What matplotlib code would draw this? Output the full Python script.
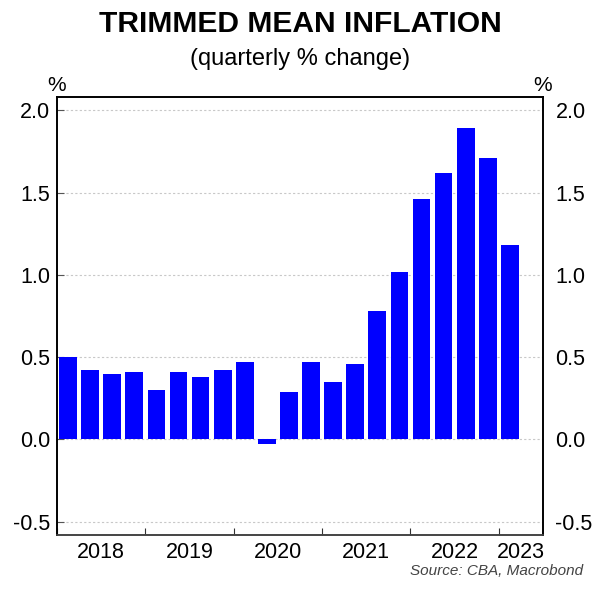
import matplotlib.pyplot as plt
import numpy as np

plt.rcParams['font.family'] = ['Liberation Sans', 'DejaVu Sans']

# quarterly trimmed mean inflation, 2018 Q1 .. 2023 Q1
quarters = ['2018Q1', '2018Q2', '2018Q3', '2018Q4',
            '2019Q1', '2019Q2', '2019Q3', '2019Q4',
            '2020Q1', '2020Q2', '2020Q3', '2020Q4',
            '2021Q1', '2021Q2', '2021Q3', '2021Q4',
            '2022Q1', '2022Q2', '2022Q3', '2022Q4',
            '2023Q1']
values = [0.50, 0.42, 0.40, 0.41,
          0.30, 0.41, 0.38, 0.42,
          0.47, -0.03, 0.29, 0.47,
          0.35, 0.46, 0.78, 1.02,
          1.46, 1.62, 1.89, 1.71,
          1.18]
years = ['2018', '2019', '2020', '2021', '2022', '2023']
yticks = [-0.5, 0.0, 0.5, 1.0, 1.5, 2.0]

fig = plt.figure(figsize=(6.09, 5.92), dpi=100)
ax = fig.add_axes([57/609, 1 - 535/592, (543-57)/609, (535-97)/592])

x = np.arange(len(values)) + 0.5
ax.bar(x, values, width=0.8, color='#0000ff', zorder=3)

ax.set_xlim(0, 22)
ax.set_ylim(-0.58, 2.08)
ax.set_yticks(yticks)
ax.set_yticklabels([f'{v:.1f}' for v in yticks])
ax.grid(axis='y', color='#c8c8c8', linestyle=(0, (2, 2)), linewidth=0.8, zorder=0)

# year boundaries as ticks, year names centred between them
ax.set_xticks([0, 4, 8, 12, 16, 20])
ax.set_xticklabels([])
ax.tick_params(axis='x', direction='in', length=5, color='#333333')
label_pos = [2, 6, 10, 14, 18, 21]
for pos, yr in zip(label_pos, years):
    ax.text(pos, -0.625, yr, transform=ax.transData, ha='center', va='top', fontsize=15.5)

ax.tick_params(axis='y', direction='in', length=5, labelsize=15.5, color='#555555',
               left=True, right=True, labelleft=True, labelright=False, pad=5)

# right-hand labels on a twin axis so they can sit a bit further out
ax2 = ax.twinx()
ax2.set_ylim(ax.get_ylim())
ax2.set_yticks(yticks)
ax2.set_yticklabels([f'{v:.1f}' for v in yticks])
ax2.tick_params(axis='y', length=0, labelsize=15.5, pad=9)

for a in (ax, ax2):
    for s in ['left', 'right', 'top']:
        a.spines[s].set_color('black')
        a.spines[s].set_linewidth(1.2)
    a.spines['bottom'].set_color('#444444')
    a.spines['bottom'].set_linewidth(1.2)

fig.text(300/609, 1 - 24/592, 'TRIMMED MEAN INFLATION', ha='center', va='center',
         fontsize=21.6, fontweight='bold')
fig.text(300/609, 1 - 59/592, '(quarterly % change)', ha='center', va='center', fontsize=17)
fig.text(57/609, 1 - 85/592, '%', ha='center', va='center', fontsize=15)
fig.text(543/609, 1 - 85/592, '%', ha='center', va='center', fontsize=15)
fig.text(583/609, 1 - 571/592, 'Source: CBA, Macrobond', ha='right', va='center',
         fontsize=11, style='italic', color='#444444')

plt.savefig('out.png', dpi=100)
